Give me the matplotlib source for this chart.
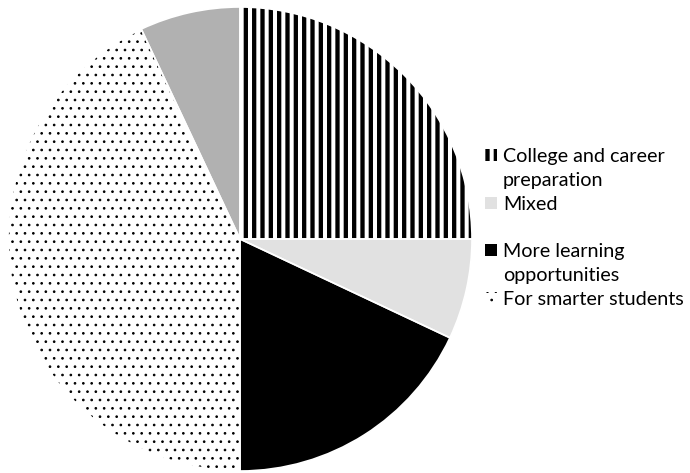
import matplotlib
matplotlib.use("Agg")
import matplotlib.pyplot as plt
from matplotlib.patches import Rectangle

# ---- data ----
categories = ["College and career\npreparation", "Mixed", "More learning\nopportunities",
              "For smarter students", ""]
values = [25, 7, 18, 43, 7]
legend_count = 4

# ---- styles ----
facecolors = ["white", "#e1e1e1", "black", "white", "#b1b1b1"]
hatches = ["||", None, None, "..", None]
hatch_lw = [3.1, 1.0, 1.0, 0.7, 1.0]

W, H = 690, 473
fig = plt.figure(figsize=(W / 100, H / 100), dpi=100)
cx, cy, r = 240, 239, 232
ax = fig.add_axes([(cx - r) / W, (H - cy - r) / H, 2 * r / W, 2 * r / H])

wedges, _ = ax.pie(values, startangle=90, counterclock=False, radius=1,
                   colors=facecolors,
                   wedgeprops=dict(linewidth=0, edgecolor="black"))
for w, hch, lw in zip(wedges, hatches, hatch_lw):
    if hch:
        w.set_hatch(hch)
        w.set_hatch_linewidth(lw)
# thin white separators between slices
ax.pie(values, startangle=90, counterclock=False, radius=1,
       colors=["none"] * len(values),
       wedgeprops=dict(linewidth=1.2, edgecolor="white", fill=False))
ax.set_xlim(-1, 1)
ax.set_ylim(-1, 1)
ax.axis("off")

# ---- legend (manual, first four categories) ----
font = dict(family=["Lato", "DejaVu Sans"], fontsize=14.2, color="black")


def fx(x):
    return x / W


def fy(y):
    return 1 - y / H


y0, step, lh = 155, 47.7, 23.8
for i in range(legend_count):
    yc = y0 + i * step
    rect = Rectangle((fx(485), fy(yc + 6)), 12 / W, 12 / H, transform=fig.transFigure,
                     facecolor=facecolors[i], edgecolor="black", linewidth=0,
                     hatch=hatches[i])
    if hatches[i]:
        rect.set_hatch_linewidth(hatch_lw[i])
    fig.add_artist(rect)
    for k, line in enumerate(categories[i].split("\n")):
        fig.text(fx(503), fy(yc + k * lh), line, ha="left", va="center_baseline", **font)

fig.savefig("out.png", dpi=100)
